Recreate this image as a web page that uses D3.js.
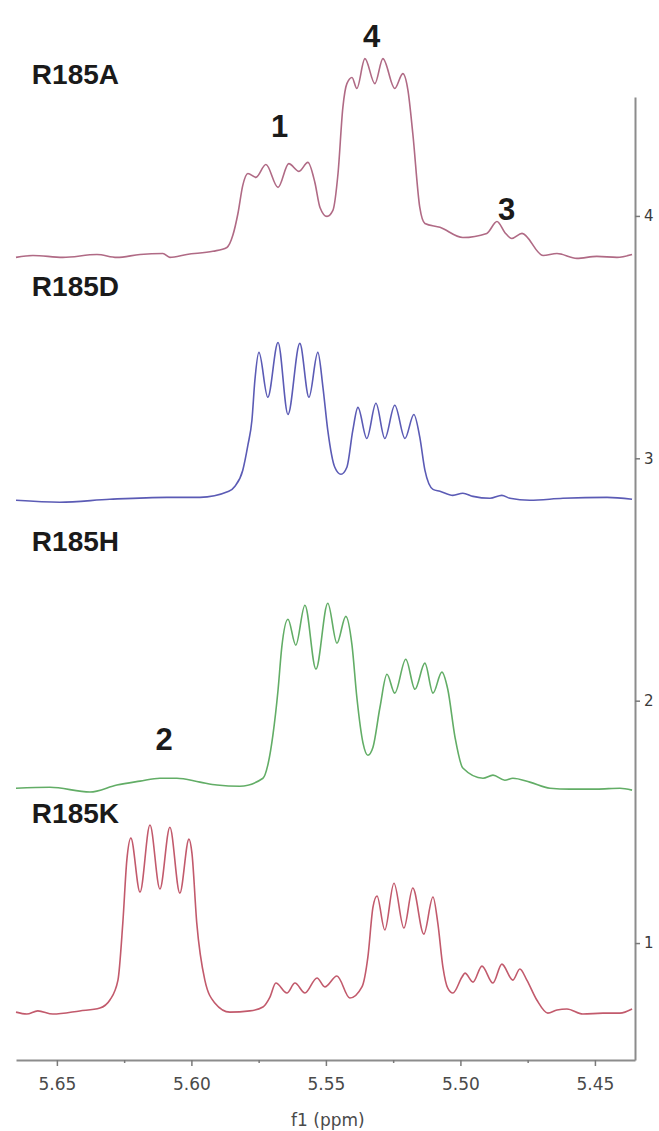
<!DOCTYPE html>
<html>
<head>
<meta charset="utf-8">
<script src="https://cdn.jsdelivr.net/npm/d3@7"></script>
<style>
  html, body { margin: 0; padding: 0; background: #fff; }
  svg { display: block; }
</style>
</head>
<body>
<svg id="chart" width="659" height="1131"></svg>
<script>
// 1H NMR traces, f1 chemical shift (ppm) vs. stacked intensity
const xTicks = [5.65, 5.60, 5.55, 5.50, 5.45];
const xMinorTicks = [5.625, 5.575, 5.525, 5.475];
const yTicks = [1, 2, 3, 4];

const sampleNames = ["R185A", "R185D", "R185H", "R185K"];
const sampleColors = ["#b06a85", "#5b5bb5", "#62ad66", "#c25a6c"];

const traceR185A = [
  [5.6652,3.829],[5.6589,3.837],[5.6478,3.829],[5.6351,3.841],[5.6277,3.829],[5.6191,3.841],
  [5.6106,3.845],[5.6080,3.829],[5.6017,3.841],[5.5920,3.854],[5.5868,3.870],[5.5846,3.920],
  [5.5827,4.010],[5.5809,4.126],[5.5790,4.175],[5.5760,4.159],[5.5723,4.212],[5.5678,4.118],
  [5.5638,4.216],[5.5600,4.184],[5.5567,4.221],[5.5541,4.138],[5.5522,4.035],[5.5496,3.998],
  [5.5474,4.023],[5.5455,4.175],[5.5437,4.447],[5.5422,4.546],[5.5403,4.571],[5.5385,4.526],
  [5.5355,4.649],[5.5318,4.546],[5.5288,4.649],[5.5244,4.526],[5.5214,4.587],[5.5195,4.518],
  [5.5177,4.340],[5.5151,4.035],[5.5132,3.969],[5.5076,3.953],[5.4991,3.911],[5.4902,3.928],
  [5.4864,3.977],[5.4835,3.932],[5.4809,3.907],[5.4771,3.928],[5.4693,3.837],[5.4641,3.845],
  [5.4567,3.825],[5.4493,3.833],[5.4418,3.829],[5.4362,3.841]
];

const traceR185D = [
  [5.6652,2.827],[5.6489,2.819],[5.6303,2.831],[5.6091,2.839],[5.5968,2.839],[5.5861,2.864],
  [5.5838,2.885],[5.5809,2.951],[5.5790,3.054],[5.5775,3.157],[5.5764,3.322],[5.5749,3.437],
  [5.5716,3.252],[5.5678,3.478],[5.5641,3.181],[5.5597,3.474],[5.5563,3.252],[5.5530,3.437],
  [5.5511,3.293],[5.5493,3.115],[5.5467,2.963],[5.5444,2.934],[5.5422,2.963],[5.5400,3.115],
  [5.5381,3.210],[5.5348,3.082],[5.5314,3.227],[5.5281,3.082],[5.5244,3.219],[5.5206,3.082],
  [5.5173,3.181],[5.5151,3.087],[5.5132,2.951],[5.5102,2.872],[5.5076,2.864],[5.5028,2.847],
  [5.4991,2.856],[5.4953,2.843],[5.4890,2.835],[5.4846,2.847],[5.4816,2.835],[5.4742,2.827],
  [5.4619,2.835],[5.4455,2.839],[5.4362,2.831]
];

const traceR185H = [
  [5.6652,1.639],[5.6526,1.643],[5.6377,1.623],[5.6277,1.652],[5.6191,1.668],[5.6117,1.680],
  [5.6054,1.680],[5.5968,1.664],[5.5905,1.652],[5.5820,1.647],[5.5734,1.680],[5.5716,1.734],
  [5.5697,1.858],[5.5678,2.043],[5.5664,2.221],[5.5641,2.336],[5.5612,2.229],[5.5578,2.394],
  [5.5537,2.130],[5.5493,2.402],[5.5459,2.237],[5.5426,2.348],[5.5403,2.229],[5.5385,2.014],
  [5.5362,1.825],[5.5344,1.775],[5.5325,1.808],[5.5299,1.973],[5.5273,2.109],[5.5244,2.031],
  [5.5203,2.171],[5.5169,2.047],[5.5132,2.155],[5.5102,2.031],[5.5069,2.118],[5.5047,2.047],
  [5.5020,1.849],[5.4991,1.722],[5.4916,1.680],[5.4879,1.693],[5.4835,1.672],[5.4805,1.680],
  [5.4742,1.664],[5.4667,1.639],[5.4593,1.635],[5.4493,1.635],[5.4407,1.639],[5.4362,1.631]
];

const traceR185K = [
  [5.6652,0.715],[5.6612,0.707],[5.6571,0.720],[5.6515,0.707],[5.6415,0.720],[5.6340,0.732],
  [5.6303,0.765],[5.6273,0.847],[5.6255,1.082],[5.6240,1.342],[5.6225,1.433],[5.6191,1.210],
  [5.6154,1.487],[5.6117,1.223],[5.6080,1.478],[5.6043,1.206],[5.6009,1.429],[5.5998,1.371],
  [5.5980,1.082],[5.5950,0.847],[5.5913,0.753],[5.5857,0.715],[5.5783,0.720],[5.5734,0.736],
  [5.5708,0.777],[5.5686,0.835],[5.5645,0.794],[5.5615,0.835],[5.5578,0.794],[5.5533,0.856],
  [5.5504,0.819],[5.5459,0.864],[5.5411,0.773],[5.5366,0.819],[5.5344,0.942],[5.5325,1.148],
  [5.5310,1.194],[5.5281,1.054],[5.5247,1.247],[5.5210,1.062],[5.5177,1.227],[5.5136,1.037],
  [5.5102,1.190],[5.5084,1.082],[5.5065,0.901],[5.5047,0.814],[5.5028,0.794],[5.4994,0.860],
  [5.4983,0.876],[5.4953,0.839],[5.4920,0.905],[5.4879,0.835],[5.4846,0.913],[5.4805,0.847],
  [5.4779,0.893],[5.4753,0.847],[5.4716,0.765],[5.4675,0.711],[5.4641,0.724],[5.4604,0.728],
  [5.4545,0.707],[5.4470,0.711],[5.4407,0.711],[5.4362,0.728]
];

const traces = [traceR185A, traceR185D, traceR185H, traceR185K];

// sample name labels (ppm position of left edge, intensity at text baseline)
const nameLabelPos = [[5.6593, 4.546], [5.6593, 3.668], [5.6593, 2.616], [5.6593, 1.495]];
// peak numbering labels: text, ppm, intensity
const peakLabels = [["1", 5.5672, 4.325], ["4", 5.5330, 4.696], ["3", 5.4828, 3.983], ["2", 5.6101, 1.796]];

const svg = d3.select("#chart");

const x = d3.scaleLinear().domain([5.6652, 5.4351]).range([16, 635]);
const y = d3.scaleLinear().domain([0.5175, 4.4907]).range([1060, 97]);

// traces
const line = d3.line()
  .x(d => x(d[0]))
  .y(d => y(d[1]))
  .curve(d3.curveMonotoneX);

svg.append("g")
  .selectAll("path")
  .data(traces)
  .join("path")
  .attr("d", line)
  .attr("fill", "none")
  .attr("stroke", (d, i) => sampleColors[i])
  .attr("stroke-width", 1.6)
  .attr("stroke-linejoin", "round");

// bottom axis: major ticks with labels
const xAxis = svg.append("g")
  .attr("transform", `translate(0,${y.range()[0]})`)
  .call(d3.axisBottom(x).tickValues(xTicks).tickFormat(d3.format(".2f"))
    .tickSize(6).tickSizeOuter(0).tickPadding(12));
// minor ticks
const xMinor = svg.append("g")
  .attr("transform", `translate(0,${y.range()[0]})`)
  .call(d3.axisBottom(x).tickValues(xMinorTicks).tickFormat("")
    .tickSize(3).tickSizeOuter(0));
xMinor.select(".domain").remove();

// right axis
const yAxis = svg.append("g")
  .attr("transform", `translate(${x.range()[1]},0)`)
  .call(d3.axisRight(y).tickValues(yTicks).tickFormat(d3.format("d"))
    .tickSize(5).tickSizeOuter(0).tickPadding(4));

[xAxis, xMinor, yAxis].forEach(g => {
  g.selectAll(".domain").attr("stroke", "#8c8c8c").attr("stroke-width", 2);
  g.selectAll(".tick line").attr("stroke", "#7a7a7a").attr("stroke-width", 1.5);
});
xAxis.selectAll("text")
  .attr("font-family", "DejaVu Sans, Verdana, sans-serif")
  .attr("font-size", 17).attr("fill", "#4a4a4a");
yAxis.selectAll("text")
  .attr("font-family", "DejaVu Sans, Verdana, sans-serif")
  .attr("font-size", 15).attr("fill", "#3a3a3a");

// axis title
svg.append("text")
  .attr("x", (x(5.55) + 2)).attr("y", 1126)
  .attr("text-anchor", "middle")
  .attr("font-family", "DejaVu Sans, Verdana, sans-serif")
  .attr("font-size", 17).attr("fill", "#4a4a4a")
  .text("f1 (ppm)");

// sample names
svg.append("g")
  .selectAll("text")
  .data(sampleNames)
  .join("text")
  .attr("x", (d, i) => x(nameLabelPos[i][0]))
  .attr("y", (d, i) => y(nameLabelPos[i][1]))
  .attr("font-family", "Liberation Sans, Arial, sans-serif")
  .attr("font-weight", "bold")
  .attr("font-size", 28)
  .attr("fill", "#1a1a1a")
  .text(d => d);

// peak numbers
svg.append("g")
  .selectAll("text")
  .data(peakLabels)
  .join("text")
  .attr("x", d => x(d[1]))
  .attr("y", d => y(d[2]))
  .attr("text-anchor", "middle")
  .attr("font-family", "Liberation Sans, Arial, sans-serif")
  .attr("font-weight", "bold")
  .attr("font-size", 31)
  .attr("fill", "#1a1a1a")
  .text(d => d[0]);
</script>
</body>
</html>
